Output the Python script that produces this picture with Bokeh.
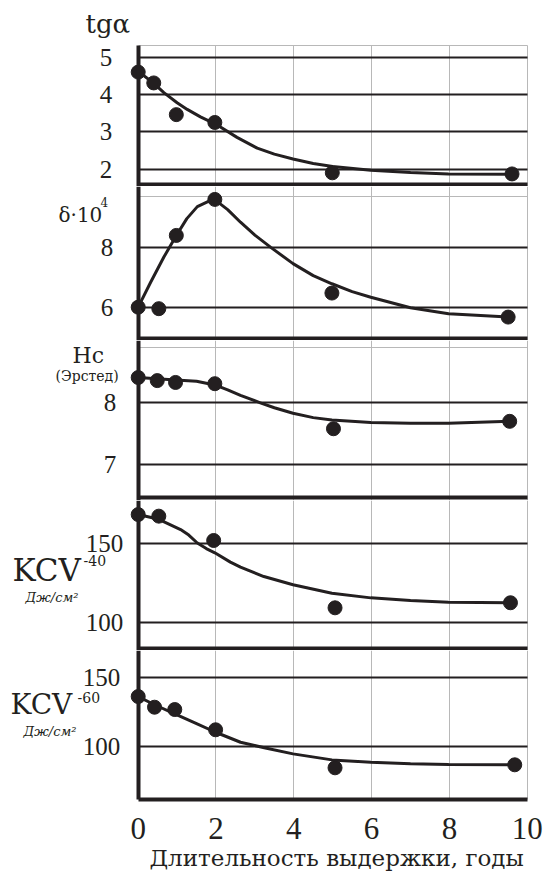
from bokeh.plotting import figure
from bokeh.models import Range1d, FixedTicker, Label, Grid, LinearAxis
from bokeh.layouts import column
from bokeh.embed import file_html
from bokeh.resources import INLINE

# ---------------- data ----------------
# x: storage duration, years
x_tg = [0, 0.40, 0.98, 1.97, 4.99, 9.61]
tg = [4.60, 4.31, 3.46, 3.25, 1.90, 1.87]
curve_x_tg = [0, 0.4, 0.66, 1.0, 1.26, 1.6, 2.0, 2.54, 3.06, 3.5, 3.98, 4.5, 5.0, 5.98, 7.0, 7.98, 9.61]
curve_tg = [4.62, 4.30, 4.05, 3.78, 3.60, 3.40, 3.20, 2.85, 2.56, 2.40, 2.27, 2.15, 2.07, 1.97, 1.91, 1.87, 1.86]

x_delta = [0, 0.53, 0.98, 1.97, 4.98, 9.51]
delta = [6.00, 5.95, 8.39, 9.59, 6.47, 5.67]
curve_x_delta = [0, 0.32, 0.66, 0.98, 1.25, 1.52, 1.86, 2.0, 2.3, 2.63, 3.0, 3.4, 3.98, 4.5, 4.98, 5.5, 5.98, 7.0, 7.98, 9.51]
curve_delta = [6.00, 6.83, 7.67, 8.39, 8.95, 9.35, 9.56, 9.55, 9.25, 8.83, 8.40, 8.00, 7.45, 7.05, 6.78, 6.52, 6.33, 5.98, 5.78, 5.67]

x_hc = [0, 0.49, 0.96, 1.97, 5.02, 9.55]
hc = [8.41, 8.36, 8.33, 8.31, 7.58, 7.70]
curve_x_hc = [0, 0.49, 0.96, 1.5, 1.97, 2.3, 2.63, 3.14, 3.5, 3.98, 4.5, 4.98, 5.98, 7.0, 7.98, 9.55]
curve_hc = [8.41, 8.39, 8.37, 8.35, 8.29, 8.21, 8.12, 8.00, 7.92, 7.83, 7.76, 7.72, 7.68, 7.67, 7.67, 7.70]

x_kcv40 = [0, 0.53, 1.94, 5.06, 9.57]
kcv40 = [168.5, 167.5, 152.1, 109.5, 112.7]
curve_x_kcv40 = [0, 0.53, 1.09, 1.3, 1.52, 1.75, 1.97, 2.37, 2.63, 3.23, 3.98, 4.98, 5.98, 7.0, 7.98, 9.57]
curve_kcv40 = [168.5, 165.5, 159.0, 155.5, 150.5, 147.0, 144.3, 138.4, 135.2, 129.3, 124.1, 118.7, 115.8, 114.1, 113.0, 112.7]

x_kcv60 = [0, 0.42, 0.94, 1.99, 5.06, 9.68]
kcv60 = [136.3, 128.5, 126.8, 112.0, 84.2, 86.4]
curve_x_kcv60 = [0, 0.42, 0.94, 1.5, 1.99, 2.63, 3.3, 3.98, 4.98, 5.98, 7.0, 7.98, 9.68]
curve_kcv60 = [136.3, 130.3, 123.7, 116.5, 110.2, 102.9, 98.5, 94.4, 90.0, 88.3, 87.1, 86.6, 86.4]

x_ticks = [0, 2, 4, 6, 8, 10]
x_title = "Длительность выдержки, годы"

# ---------------- styling ----------------
INK = "#231f20"
GRAY = "#b8b8b8"
NUM_FONT = "Liberation Serif"
TXT_FONT = "DejaVu Serif"
W = 544
X_SPAN = (0, 10)                 # extent of the data area along x
x_rng = Range1d(-3.540, 10.445)  # frame covers the whole figure; x=0 sits at 138 px


def make_panel(height, yr, yticks, area=None, seps=(), grays=(), standoff=18,
               tick_size="25px"):
    """area = (bottom, top) of the drawn chart area when it is smaller than the range."""
    p = figure(width=W, height=height, x_range=x_rng, y_range=Range1d(*yr),
               output_backend="svg", toolbar_location=None,
               min_border=0, x_axis_location=None)
    p.background_fill_color = "white"
    p.border_fill_color = "white"
    p.outline_line_color = None

    ax = p.yaxis[0]
    ax.fixed_location = 0
    if area is not None:
        ax.bounds = area
    ax.ticker = FixedTicker(ticks=yticks)
    ax.axis_line_width = 4
    ax.axis_line_color = INK
    ax.major_tick_out = 0
    ax.major_tick_in = 0
    ax.minor_tick_out = 0
    ax.minor_tick_in = 0
    ax.major_label_standoff = standoff
    ax.major_label_text_font = NUM_FONT
    ax.major_label_text_font_size = tick_size
    ax.major_label_text_color = INK

    p.ygrid.ticker = FixedTicker(ticks=yticks)
    p.ygrid.grid_line_color = INK
    p.ygrid.grid_line_width = 2
    p.ygrid.cross_bounds = X_SPAN
    p.xgrid.ticker = FixedTicker(ticks=[2, 4, 6, 8, 10])
    p.xgrid.grid_line_color = GRAY
    p.xgrid.grid_line_width = 1
    if area is not None:
        p.xgrid.cross_bounds = area

    if grays:
        p.add_layout(Grid(dimension=1, ticker=FixedTicker(ticks=list(grays)),
                          grid_line_color=GRAY, grid_line_width=1,
                          cross_bounds=X_SPAN))
    if seps:
        p.add_layout(Grid(dimension=1, ticker=FixedTicker(ticks=list(seps)),
                          grid_line_color=INK, grid_line_width=4,
                          cross_bounds=X_SPAN))
    return p


def add_series(p, cx, cy, xs, ys):
    p.line(cx, cy, line_width=3, line_color=INK)
    p.scatter(xs, ys, size=14, fill_color=INK, line_color=INK)


def lab(p, x, y, text, size, font=TXT_FONT, style="normal", align="left"):
    p.add_layout(Label(x=x, y=y, text=text, text_font=font,
                       text_font_size=size, text_font_style=style,
                       text_color=INK, text_baseline="middle",
                       text_align=align))


# panel 1 : tg alpha
p1 = make_panel(186, (1.533, 6.520), [2, 3, 4, 5], area=(1.533, 5.314),
                seps=[1.578], grays=[5.314], standoff=26)
add_series(p1, curve_x_tg, curve_tg, x_tg, tg)
lab(p1, -1.355, 5.893, "tgα", "26px")

# panel 2 : delta * 10^4
p2 = make_panel(154, (4.89, 10.02), [6, 8], seps=[4.946], grays=[9.69], standoff=25)
add_series(p2, curve_x_delta, curve_delta, x_delta, delta)
lab(p2, -2.049, 9.087, "δ·10", "20px")
lab(p2, -0.969, 9.49, "4", "12px")

# panel 3 : Hc
p3 = make_panel(160, (6.417, 9.01), [7, 8], seps=[6.459], grays=[8.90], standoff=22)
add_series(p3, curve_x_hc, curve_hc, x_hc, hc)
lab(p3, -1.689, 8.760, "Hc", "22px")
lab(p3, -2.126, 8.436, "(Эрстед)", "14px")

# panel 4 : KCV-40
p4 = make_panel(150, (82.5, 177.4), [100, 150], seps=[83.6], standoff=15)
add_series(p4, curve_x_kcv40, curve_kcv40, x_kcv40, kcv40)
lab(p4, -3.231, 133.2, "KCV", "31px")
lab(p4, -1.406, 139.2, "-40", "14px")
lab(p4, -2.897, 115.8, "Дж/см²", "13px", style="italic")

# panel 5 : KCV-60 with the x axis
p5 = make_panel(223, (6.94, 169.96), [100, 150], area=(61.0, 169.96), standoff=18)
add_series(p5, curve_x_kcv60, curve_kcv60, x_kcv60, kcv60)
lab(p5, -3.283, 130.8, "KCV", "28px")
lab(p5, -1.560, 135.5, "-60", "14px")
lab(p5, -2.949, 111.0, "Дж/см²", "13px", style="italic")

xa = LinearAxis(ticker=FixedTicker(ticks=x_ticks), fixed_location=61.0,
                bounds=X_SPAN, axis_line_width=4, axis_line_color=INK,
                major_tick_out=0, major_tick_in=0, minor_tick_out=0, minor_tick_in=0,
                major_label_standoff=18, major_label_text_font=NUM_FONT,
                major_label_text_font_size="31px", major_label_text_color=INK)
p5.add_layout(xa, "below")
lab(p5, 5.1, 18.35, x_title, "23px", align="center")

layout = column(p1, p2, p3, p4, p5, spacing=0)

open("out.html", "w").write(file_html(layout, INLINE))
